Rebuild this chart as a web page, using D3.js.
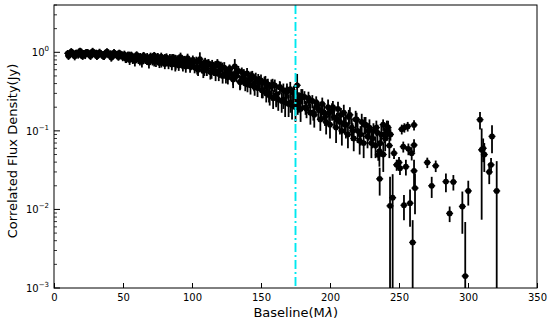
<!DOCTYPE html>
<meta charset="utf-8">
<style>
  body { margin: 0; background: #fff; }
  text { font-family: "DejaVu Sans", sans-serif; fill: #000; }
</style>
<body>
<script src="https://cdn.jsdelivr.net/npm/d3@7"></script>
<script>

var width = 550,
    height = 322,
    margin = {top: 5, right: 13, bottom: 34, left: 54};

// baseline (M lambda), correlated flux (Jy), 1-sigma error (Jy)
var baseline = [
  10,11,12.5,13.6,15,16.2,17.5,18.9,20,21.4,22.6,24,25.3,26.5,28,29.2,30.6,31.8,33,34.5,35.7,37,38.4,39.5,41,42.2,43.5,44.8,46,47.3,48.6,49.8,
  51,52.3,53.5,54.8,56,57.4,58.6,59.9,61.2,62.4,63.7,65,66.3,67.5,68.8,70,71.4,72.6,73.9,75.2,76.4,77.7,79,80.3,81.5,82.8,84,85.4,86.6,87.9,89.2,90.4,91.7,93,94.3,95.5,96.8,98,99.3,
  100.6,101.9,103.1,104.4,105.7,107,108.2,109.5,110.8,112,113.3,114.6,115.8,117.1,118.4,119.6,120.9,122.2,123.4,124.7,126,127.2,128.5,129.8,131,132.3,133.6,134.8,136.1,137.4,138.6,139.9,141.2,142.4,143.7,145,146.2,147.5,148.8,
  150,151.3,152.5,153.8,155,156.3,157.5,158.8,160,161.2,162.5,163.7,165,166.2,167.5,168.7,170,171.2,172.5,173.7,175,176.2,177.5,178.7,180,
  181.5,183,184.4,185.8,187.2,188.6,190,191.5,193,194.4,195.8,197.2,198.6,200,201.5,203,204.4,205.8,207.2,208.6,210,211.5,213,214.4,215.8,217.2,218.6,220,221.5,223,224.4,225.8,227.2,228.6,230,231.5,233,234.4,235.8,237.2,238.6,240,241.5,243,
  10.5,13,15.6,18.2,20.8,23.3,25.9,28.5,31.1,33.7,36.3,38.9,41.5,44.1,46.7,49.3,51.9,54.5,57.1,59.6,62.2,64.8,67.4,70,72.6,75.2,77.8,80.4,83,85.6,88.2,90.8,93.4,96,98.6,101.2,103.8,106.4,109,111.6,114.2,116.8,119.4,122,124.6,127.2,129.8,132.4,135,137.6,140.2,142.8,145.4,148,150.6,153.2,155.8,158.4,161,163.6,166.2,168.8,171.4,174,176.6,179.2,
  182.3,185,187.9,190.7,193.6,196.4,199.3,202.1,205,207.9,210.7,213.6,216.4,219.3,222.1,225,227.9,230.7,233.6,236.4,239.3,242.1,
  236,235,243.5,245.4,246.4,248.3,250,250.7,252,253.9,256.3,260.9,253.6,255,253.1,256.8,259.2,260.9,258,259.9,260.9,261.6,270.5,273.7,276.6,284,286.7,289.4,295.9,298,300.2,308.7,309.9,311,311.8,315.4,316.7,317.4,320.8,238.5,241.2,243.8
];

var flux = [
  0.97,0.92,1.02,0.95,0.89,0.99,0.94,1.04,0.91,0.97,0.93,1.01,0.96,0.9,1.03,0.95,0.98,0.92,1.0,0.94,0.89,0.97,1.02,0.93,0.96,0.88,0.99,0.94,0.91,0.98,0.93,0.87,
  0.94,0.83,0.9,0.8,0.92,0.84,0.78,0.93,0.82,0.88,0.76,0.9,0.81,0.87,0.74,0.86,0.79,0.91,0.77,0.85,0.73,0.88,0.8,0.71,0.86,0.76,0.83,0.7,0.85,0.75,0.81,0.68,0.87,0.72,0.8,0.66,0.84,0.71,0.7,
  0.8,0.64,0.76,0.6,0.82,0.68,0.58,0.75,0.62,0.72,0.56,0.7,0.6,0.54,0.72,0.58,0.66,0.5,0.64,0.55,0.48,0.62,0.53,0.45,0.66,0.5,0.58,0.42,0.56,0.47,0.4,0.54,0.44,0.38,0.5,0.4,0.46,0.35,0.42,
  0.44,0.33,0.41,0.3,0.39,0.28,0.37,0.26,0.38,0.29,0.25,0.36,0.24,0.33,0.23,0.31,0.22,0.34,0.21,0.3,0.2,0.38,0.24,0.19,0.27,
  0.27,0.19,0.26,0.17,0.24,0.16,0.23,0.19,0.14,0.22,0.17,0.13,0.2,0.12,0.18,0.15,0.11,0.19,0.13,0.1,0.17,0.12,0.09,0.16,0.11,0.08,0.14,0.1,0.075,0.13,0.07,0.12,0.085,0.11,0.07,0.1,0.065,0.095,0.055,0.09,0.05,0.08,0.1,0.065,
  0.9,1.0,0.93,0.99,0.9,1.0,0.92,0.98,0.89,0.97,0.9,0.95,0.86,0.96,0.87,0.93,0.84,0.92,0.82,0.89,0.79,0.9,0.8,0.88,0.76,0.87,0.75,0.85,0.72,0.84,0.7,0.83,0.68,0.8,0.66,0.76,0.62,0.73,0.6,0.7,0.56,0.67,0.53,0.64,0.5,0.6,0.47,0.57,0.42,0.52,0.39,0.49,0.36,0.45,0.33,0.42,0.3,0.39,0.27,0.36,0.25,0.33,0.23,0.31,0.22,0.28,
  0.2,0.24,0.17,0.21,0.18,0.15,0.17,0.2,0.14,0.16,0.12,0.15,0.1,0.14,0.09,0.12,0.1,0.08,0.11,0.07,0.09,0.11,
  0.0245,0.0496,0.0111,0.0141,0.052,0.037,0.0396,0.0335,0.105,0.11,0.114,0.119,0.0113,0.035,0.063,0.059,0.052,0.066,0.012,0.0038,0.031,0.0187,0.0396,0.02,0.0359,0.0226,0.0089,0.0224,0.0109,0.00142,0.0172,0.139,0.0574,0.06,0.05,0.03,0.037,0.085,0.0172,0.12,0.115,0.09
];

var fluxErr = [
  0.1,0.09,0.11,0.09,0.1,0.09,0.11,0.1,0.09,0.1,0.11,0.09,0.1,0.1,0.11,0.09,0.1,0.09,0.11,0.1,0.09,0.1,0.11,0.09,0.1,0.09,0.11,0.1,0.09,0.1,0.09,0.1,
  0.11,0.1,0.12,0.11,0.1,0.11,0.12,0.1,0.11,0.1,0.12,0.11,0.1,0.11,0.12,0.1,0.11,0.1,0.12,0.11,0.1,0.11,0.12,0.1,0.11,0.1,0.12,0.11,0.1,0.18,0.11,0.1,0.12,0.11,0.1,0.11,0.12,0.1,0.11,
  0.11,0.1,0.12,0.1,0.18,0.1,0.11,0.1,0.12,0.1,0.11,0.1,0.1,0.11,0.1,0.11,0.1,0.1,0.11,0.1,0.09,0.08,0.09,0.1,0.16,0.08,0.09,0.09,0.08,0.09,0.08,0.09,0.08,0.09,0.08,0.08,0.09,0.08,0.08,
  0.08,0.07,0.08,0.07,0.07,0.07,0.08,0.07,0.07,0.08,0.07,0.06,0.07,0.07,0.08,0.06,0.07,0.08,0.07,0.07,0.07,0.15,0.07,0.06,0.07,
  0.05,0.045,0.055,0.05,0.045,0.05,0.045,0.05,0.04,0.045,0.045,0.04,0.05,0.04,0.045,0.04,0.04,0.045,0.04,0.035,0.045,0.04,0.03,0.04,0.035,0.025,0.04,0.03,0.025,0.035,0.025,0.03,0.025,0.03,0.025,0.025,0.02,0.025,0.02,0.025,0.02,0.025,0.025,0.02,
  0.1,0.1,0.09,0.1,0.1,0.09,0.1,0.1,0.09,0.1,0.1,0.09,0.1,0.1,0.09,0.1,0.11,0.1,0.11,0.1,0.11,0.1,0.11,0.11,0.1,0.11,0.11,0.1,0.11,0.11,0.1,0.11,0.11,0.1,0.11,0.11,0.1,0.11,0.1,0.11,0.1,0.1,0.1,0.1,0.1,0.09,0.09,0.09,0.08,0.09,0.08,0.08,0.08,0.08,0.07,0.08,0.07,0.07,0.07,0.07,0.06,0.07,0.06,0.06,0.06,0.06,
  0.04,0.045,0.035,0.04,0.04,0.035,0.035,0.04,0.03,0.035,0.03,0.035,0.025,0.03,0.025,0.03,0.025,0.02,0.025,0.02,0.02,0.025,
  0.0095,0.008,0.015,0.014,0.008,0.006,0.007,0.006,0.015,0.015,0.016,0.018,0.004,0.008,0.01,0.01,0.01,0.012,0.006,0.0035,0.012,0.01,0.006,0.006,0.006,0.006,0.002,0.005,0.006,0.0055,0.006,0.035,0.05,0.02,0.02,0.009,0.008,0.033,0.024,0.02,0.02,0.015
];

var xTicks = [0, 50, 100, 150, 200, 250, 300, 350],
    yTicks = [1e-3, 1e-2, 1e-1, 1e0],
    yTickExp = ["\u22123", "\u22122", "\u22121", "0"],
    cutBaseline = 175;

var data = baseline.map((b, i) => ({b: b, f: flux[i], e: fluxErr[i]}));

var x = d3.scaleLinear().domain([0, 350]).range([margin.left, width - margin.right]);
var y = d3.scaleLog().domain([1e-3, 4]).range([height - margin.bottom, margin.top]);

var svg = d3.select("body").append("svg")
    .attr("width", width)
    .attr("height", height);

svg.append("clipPath").attr("id", "clip")
  .append("rect")
    .attr("x", margin.left).attr("y", margin.top)
    .attr("width", width - margin.left - margin.right)
    .attr("height", height - margin.top - margin.bottom);

var marks = svg.append("g").attr("clip-path", "url(#clip)");

var pts = marks.selectAll(".pt")
    .data(data)
    .enter().append("g")
    .attr("class", "pt");

// vertical error bars, run off the bottom when lower bound <= 0
pts.append("line")
    .attr("x1", d => x(d.b)).attr("x2", d => x(d.b))
    .attr("y1", d => y(d.f + d.e))
    .attr("y2", d => d.f - d.e > 1e-4 ? y(d.f - d.e) : height)
    .attr("stroke", "#000")
    .attr("stroke-width", 1.8);

pts.append("line")
    .attr("x1", d => x(d.b) - 3.5).attr("x2", d => x(d.b) + 3.5)
    .attr("y1", d => y(d.f)).attr("y2", d => y(d.f))
    .attr("stroke", "#000")
    .attr("stroke-width", 1.4);

pts.append("circle")
    .attr("cx", d => x(d.b))
    .attr("cy", d => y(d.f))
    .attr("r", 2.9)
    .attr("fill", "#000");

marks.append("line")
    .attr("x1", x(cutBaseline)).attr("x2", x(cutBaseline))
    .attr("y1", margin.top).attr("y2", height - margin.bottom)
    .attr("stroke", "#00e8f0")
    .attr("stroke-width", 1.9)
    .attr("stroke-dasharray", "9,3,2,3");

// axes: ticks pointing inward
var xAxis = d3.axisBottom(x).tickValues(xTicks).tickSizeInner(-5).tickSizeOuter(0).tickPadding(6);
var gx = svg.append("g")
    .attr("transform", "translate(0," + (height - margin.bottom) + ")")
    .call(xAxis);
gx.select(".domain").remove();
gx.selectAll("text").style("font-size", "10px").style("font-family", "DejaVu Sans");

var minor = [];
[1e-3, 1e-2, 1e-1, 1].forEach(p => {
  for (var k = 2; k <= 9; k++) if (p * k <= 4) minor.push(p * k);
});

var gy = svg.append("g").attr("transform", "translate(" + margin.left + ",0)");
gy.selectAll(".minor").data(minor).enter().append("line")
    .attr("x1", 0).attr("x2", 3)
    .attr("y1", d => y(d)).attr("y2", d => y(d))
    .attr("stroke", "#000").attr("stroke-width", 0.8);
gy.selectAll(".major").data(yTicks).enter().append("line")
    .attr("x1", 0).attr("x2", 6)
    .attr("y1", d => y(d)).attr("y2", d => y(d))
    .attr("stroke", "#000").attr("stroke-width", 1);

var lab = gy.selectAll(".lab").data(yTicks).enter().append("text")
    .attr("x", -5)
    .attr("y", d => y(d) + 4)
    .attr("text-anchor", "end")
    .style("font-size", "10px");
lab.append("tspan").text("10");
lab.append("tspan").attr("dy", -5).style("font-size", "7px").text((d, i) => yTickExp[i]);

// frame
svg.append("rect")
    .attr("x", margin.left).attr("y", margin.top)
    .attr("width", width - margin.left - margin.right)
    .attr("height", height - margin.top - margin.bottom)
    .attr("fill", "none")
    .attr("stroke", "#000")
    .attr("stroke-width", 1);

// x label: pieces laid side by side so the lambda can be italic
var parts = [["Baseline(M", "normal"], ["\u03bb", "italic"], [")", "normal"]];
var pieces = svg.append("g").selectAll("text").data(parts).enter().append("text")
    .attr("y", height - 5)
    .style("font-size", "13px")
    .style("font-style", d => d[1])
    .text(d => d[0]);
var widths = [];
pieces.each(function() { widths.push(this.getComputedTextLength()); });
var cx = x(175) - d3.sum(widths) / 2;
pieces.attr("x", (d, i) => cx + d3.sum(widths.slice(0, i)) + (i ? 0.5 : 0));

svg.append("text")
    .attr("transform", "translate(17,151) rotate(-90)")
    .attr("text-anchor", "middle")
    .style("font-size", "13px")
    .text("Correlated Flux Density(Jy)");

</script>
